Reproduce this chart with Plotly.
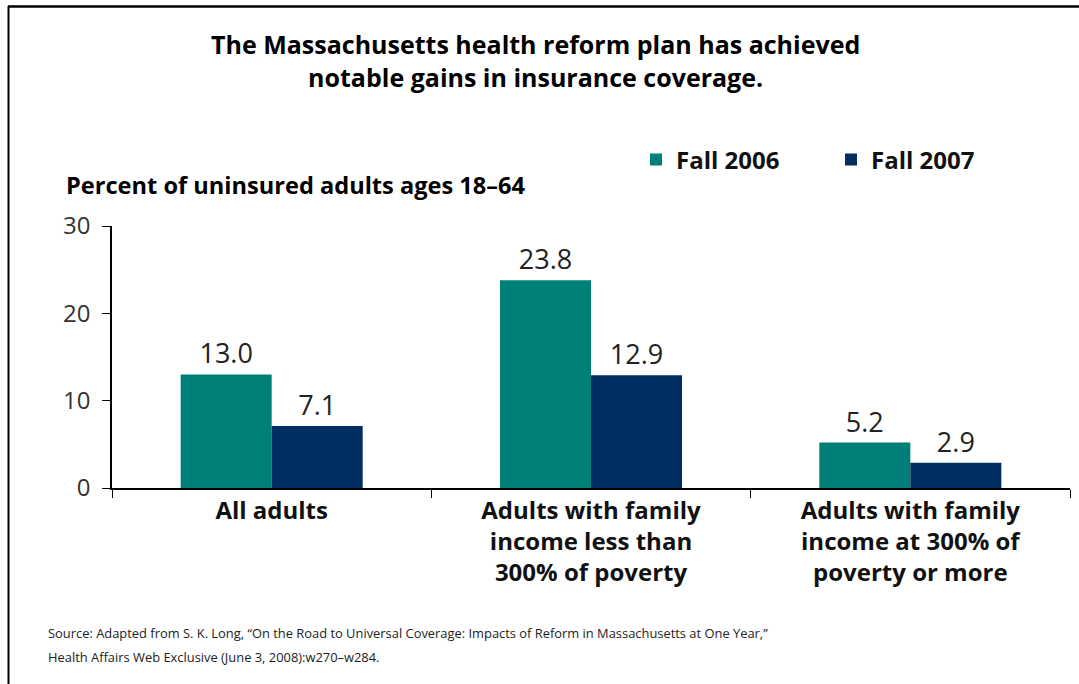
import plotly.graph_objects as go

# Chart data
categories = ["All adults",
              "Adults with family income less than 300% of poverty",
              "Adults with family income at 300% of poverty or more"]
category_labels = ["All adults",
                   "Adults with family<br>income less than<br>300% of poverty",
                   "Adults with family<br>income at 300% of<br>poverty or more"]
fall_2006 = [13.0, 23.8, 5.2]
fall_2007 = [7.1, 12.9, 2.9]
y_ticks = [0, 10, 20, 30]
source_lines = [
    "Source: Adapted from S. K. Long, “On the Road to Universal Coverage: Impacts of Reform in Massachusetts at One Year,”",
    "Health Affairs Web Exclusive (June 3, 2008):w270–w284.",
]

TEAL = "#007F78"
NAVY = "#002D62"
FONT = "Open Sans"

fig = go.Figure()
for name, vals, color in [("Fall 2006", fall_2006, TEAL), ("Fall 2007", fall_2007, NAVY)]:
    fig.add_trace(go.Bar(
        name=name, x=categories, y=vals, marker_color=color,
        marker_line_width=0, texttemplate="%{y:.1f}", textposition="outside",
        textfont=dict(size=27, color="#222222", family=FONT), cliponaxis=False,
    ))

# Plot area spans x 112..1070 px and y 226..488 px
L, R, T, B = 112, 1070, 226, 488
W, H = 1079, 684

def px(x):
    return (x - L) / (R - L)

def py(y):
    return (B - y) / (B - T)

fig.update_layout(
    width=W, height=H,
    margin=dict(l=L, r=W - R, t=T, b=H - B, autoexpand=False),
    paper_bgcolor="white", plot_bgcolor="white",
    barmode="group", bargap=0.43, bargroupgap=0,
    font=dict(family=FONT, color="#111111"),
    showlegend=True,
    legend=dict(
        orientation="h", x=px(636), y=py(160), xanchor="left", yanchor="middle",
        font=dict(size=24, family=FONT, color="#111111", weight="bold"),
        entrywidth=150, entrywidthmode="pixels",
        bgcolor="rgba(0,0,0,0)", traceorder="normal",
    ),
    xaxis=dict(
        tickmode="array", tickvals=categories, ticktext=category_labels,
        tickson="boundaries", ticks="outside", ticklen=8, tickcolor="black",
        showline=True, linecolor="black", linewidth=1.5,
        tickfont=dict(size=24, family=FONT, color="#111111", weight="bold"),
        showgrid=False, fixedrange=True,
    ),
    yaxis=dict(
        range=[0, 30], tickvals=y_ticks, ticks="outside", ticklen=8,
        tickcolor="black", showline=True, linecolor="black", linewidth=1.5,
        tickfont=dict(size=24, family=FONT, color="#333333"),
        ticklabelstandoff=7,
        showgrid=False, zeroline=False, fixedrange=True,
    ),
)

annotations = [
    dict(text="The Massachusetts health reform plan has achieved<br>notable gains in insurance coverage.",
         x=px(535), y=py(61), xanchor="center", yanchor="middle",
         font=dict(size=25, family=FONT, color="black", weight="bold")),
    dict(text="Percent of uninsured adults ages 18–64",
         x=px(64), y=py(185), xanchor="left", yanchor="middle",
         font=dict(size=23.6, family=FONT, color="black", weight="bold")),
]
for i, line in enumerate(source_lines):
    annotations.append(dict(
        text=line, x=px(46), y=py(633 + 24 * i), xanchor="left", yanchor="middle",
        align="left", font=dict(size=12.9, family=FONT, color="#222222")))
for a in annotations:
    a.update(xref="paper", yref="paper", showarrow=False)
fig.update_layout(annotations=annotations)

# Page frame: top and left rules
fig.add_shape(type="line", xref="paper", yref="paper",
              x0=px(8), x1=px(1079), y0=py(6.5), y1=py(6.5),
              line=dict(color="black", width=2.5))
fig.add_shape(type="line", xref="paper", yref="paper",
              x0=px(8.5), x1=px(8.5), y0=py(6), y1=py(684),
              line=dict(color="black", width=2))

fig.write_html("out.html")
